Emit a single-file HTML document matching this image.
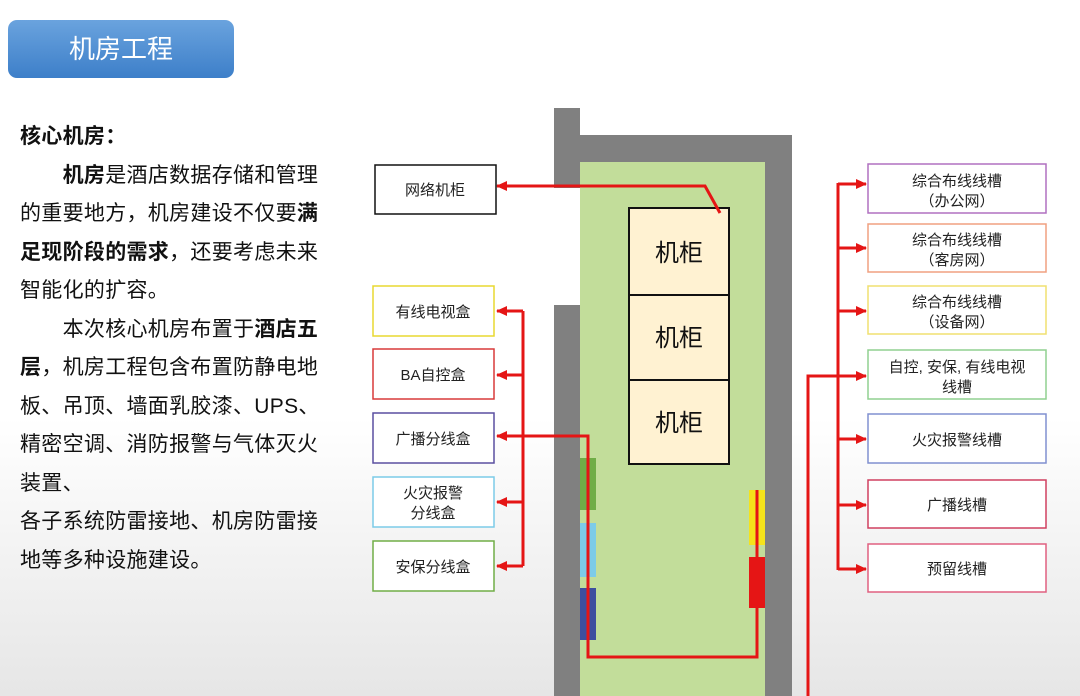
<!DOCTYPE html>
<html><head><meta charset="utf-8"><style>
body{margin:0;width:1080px;height:696px;overflow:hidden;background:linear-gradient(#fff 0%,#fff 60%,#e6e6e6 100%);font-family:"Liberation Sans","Noto Sans CJK SC",sans-serif;position:relative}
.title{position:absolute;left:8px;top:20px;width:226px;height:58px;border-radius:9px;background:linear-gradient(#6aa3de,#3d7fc9);color:#fff;font-size:26px;line-height:58px;text-align:center}
.txt{position:absolute;left:20px;top:118px;font-size:21px;line-height:38.5px;color:#111;white-space:nowrap;letter-spacing:0.3px}
.txt b{font-weight:bold}
</style></head><body>
<div class="title">机房工程</div>
<div class="txt"><b>核心机房：</b><br>&emsp;&emsp;<b>机房</b>是酒店数据存储和管理<br>的重要地方，机房建设不仅要<b>满</b><br><b>足现阶段的需求</b>，还要考虑未来<br>智能化的扩容。<br>&emsp;&emsp;本次核心机房布置于<b>酒店五</b><br><b>层</b>，机房工程包含布置防静电地<br>板、吊顶、墙面乳胶漆、UPS、<br>精密空调、消防报警与气体灭火<br>装置、<br>各子系统防雷接地、机房防雷接<br>地等多种设施建设。</div>
<svg width="1080" height="696" style="position:absolute;left:0;top:0" font-family="Liberation Sans,Noto Sans CJK SC,sans-serif">
<defs><marker id="a" markerWidth="11" markerHeight="10" refX="10" refY="5" orient="auto" markerUnits="userSpaceOnUse"><path d="M0,0L11,5L0,10z" fill="#e51515"/></marker></defs>
<rect x="580" y="162" width="185" height="534" fill="#c2dd9a"/>
<rect x="554" y="108" width="26" height="80" fill="#808080"/>
<rect x="554" y="305" width="26" height="391" fill="#808080"/>
<rect x="554" y="135" width="238" height="27" fill="#808080"/>
<rect x="765" y="135" width="27" height="561" fill="#808080"/>
<rect x="580" y="458" width="16" height="52" fill="#70ad47"/>
<rect x="580" y="523" width="16" height="54" fill="#7ccbe8"/>
<rect x="580" y="588" width="16" height="52" fill="#3d4f9f"/>
<rect x="749" y="490" width="16" height="55" fill="#f5e31a"/>
<rect x="749" y="557" width="16" height="51" fill="#e51515"/>
<g fill="#fff2d2" stroke="#111" stroke-width="2">
<rect x="629" y="208" width="100" height="87"/><rect x="629" y="295" width="100" height="85"/><rect x="629" y="380" width="100" height="84"/></g>
<g font-size="24" text-anchor="middle" fill="#111"><text x="679" y="261">机柜</text><text x="679" y="346">机柜</text><text x="679" y="431">机柜</text></g>
<g fill="none" stroke="#e51515" stroke-width="3">
<polyline points="720,213 705,186 497,186" marker-end="url(#a)"/>
<polyline points="757,490 757,657 588,657 588,436 497,436" marker-end="url(#a)"/>
<line x1="523" y1="311" x2="523" y2="566"/>
<line x1="523" y1="311" x2="497" y2="311" marker-end="url(#a)"/>
<line x1="523" y1="375" x2="497" y2="375" marker-end="url(#a)"/>
<line x1="523" y1="502" x2="497" y2="502" marker-end="url(#a)"/>
<line x1="523" y1="566" x2="497" y2="566" marker-end="url(#a)"/>
<line x1="838" y1="183" x2="838" y2="570"/>
<polyline points="808,696 808,376 838,376"/>
<line x1="838" y1="184" x2="866" y2="184" marker-end="url(#a)"/>
<line x1="838" y1="248" x2="866" y2="248" marker-end="url(#a)"/>
<line x1="838" y1="311" x2="866" y2="311" marker-end="url(#a)"/>
<line x1="838" y1="376" x2="866" y2="376" marker-end="url(#a)"/>
<line x1="838" y1="439" x2="866" y2="439" marker-end="url(#a)"/>
<line x1="838" y1="505" x2="866" y2="505" marker-end="url(#a)"/>
<line x1="838" y1="569" x2="866" y2="569" marker-end="url(#a)"/>
</g>
<g fill="#fff" stroke-width="1.5">
<rect x="375" y="165" width="121" height="49" stroke="#111"/>
<rect x="373" y="286" width="121" height="50" stroke="#e8d830"/>
<rect x="373" y="349" width="121" height="50" stroke="#d93a3a"/>
<rect x="373" y="413" width="121" height="50" stroke="#5a4fa0"/>
<rect x="373" y="477" width="121" height="50" stroke="#7ccbe8"/>
<rect x="373" y="541" width="121" height="50" stroke="#70ad47"/>
<rect x="868" y="164" width="178" height="49" stroke="#b070c0"/>
<rect x="868" y="224" width="178" height="48" stroke="#f0a080"/>
<rect x="868" y="286" width="178" height="48" stroke="#f0e070"/>
<rect x="868" y="350" width="178" height="49" stroke="#90d090"/>
<rect x="868" y="414" width="178" height="49" stroke="#8090d0"/>
<rect x="868" y="480" width="178" height="48" stroke="#d04060"/>
<rect x="868" y="544" width="178" height="48" stroke="#e06080"/>
</g>
<g font-size="15" text-anchor="middle" fill="#222">
<text x="435" y="195">网络机柜</text>
<text x="433" y="317">有线电视盒</text>
<text x="433" y="380">BA自控盒</text>
<text x="433" y="444">广播分线盒</text>
<text x="433" y="498">火灾报警</text><text x="433" y="518">分线盒</text>
<text x="433" y="572">安保分线盒</text>
<text x="957" y="186">综合布线线槽</text><text x="957" y="206">（办公网）</text>
<text x="957" y="245">综合布线线槽</text><text x="957" y="265">（客房网）</text>
<text x="957" y="307">综合布线线槽</text><text x="957" y="327">（设备网）</text>
<text x="957" y="372">自控, 安保, 有线电视</text><text x="957" y="392">线槽</text>
<text x="957" y="445">火灾报警线槽</text>
<text x="957" y="510">广播线槽</text>
<text x="957" y="574">预留线槽</text>
</g>
</svg>
</body></html>
